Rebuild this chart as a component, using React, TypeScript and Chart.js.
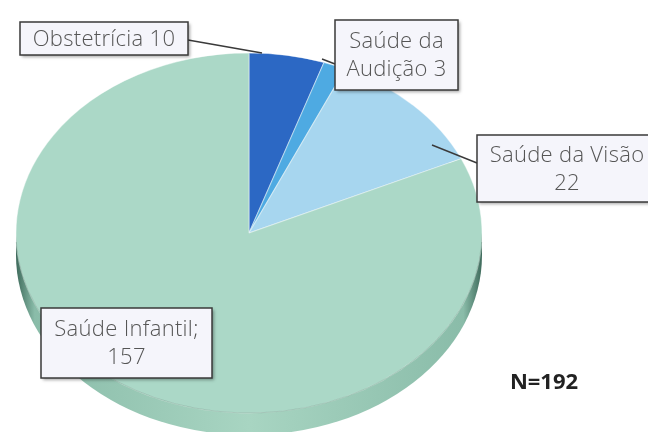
import { useEffect, useRef } from "react";
import { Chart, registerables } from "chart.js";

Chart.register(...registerables);

const categories = ["Obstetrícia", "Saúde da Audição", "Saúde da Visão", "Saúde Infantil"];
const values = [10, 3, 22, 157];
const sliceColors = ["#2c68c4", "#4eaae2", "#a7d6ef", "#abd8c7"];
const labelLines: string[][] = [
  [`Obstetrícia ${values[0]}`],
  ["Saúde da", `Audição ${values[1]}`],
  ["Saúde da Visão", `${values[2]}`],
  ["Saúde Infantil;", `${values[3]}`],
];
const totalLabel = `N=${values.reduce((a, b) => a + b, 0)}`;

// layout (style only)
const FACE = { cx: 249, cy: 233, rx: 233, ry: 180, depth: 22 };
const BOXES = [
  { x: 20, y: 22, w: 168, h: 33, from: [188, 40], to: [262, 53] },
  { x: 335, y: 20, w: 123, h: 70, from: [335, 64], to: [322, 59] },
  { x: 477, y: 135, w: 180, h: 67, from: [477, 163], to: [432, 145] },
  { x: 41, y: 308, w: 171, h: 70, from: null, to: null },
];

const piePlugin = {
  id: "pie3d",
  beforeDatasetsDraw(chart: any) {
    const ctx = chart.ctx as CanvasRenderingContext2D;
    const arc = chart.getDatasetMeta(0).data[0];
    if (!arc) return;
    const { cx, cy, rx, ry, depth } = FACE;
    ctx.save();
    const g = ctx.createLinearGradient(cx - rx, 0, cx + rx, 0);
    g.addColorStop(0, "#3e6a5b");
    g.addColorStop(0.04, "#8abca9");
    g.addColorStop(0.5, "#a8d5c2");
    g.addColorStop(0.96, "#8abca9");
    g.addColorStop(1, "#3e6a5b");
    ctx.fillStyle = g;
    ctx.beginPath();
    ctx.ellipse(cx, cy + depth, rx, ry, 0, 0, Math.PI * 2);
    ctx.fill();
    ctx.fillRect(cx - rx, cy, rx * 2, depth);
    const r = arc.outerRadius;
    ctx.translate(cx, cy);
    ctx.scale(rx / r, ry / r);
    ctx.translate(-arc.x, -arc.y);
  },
  afterDatasetsDraw(chart: any) {
    const ctx = chart.ctx as CanvasRenderingContext2D;
    ctx.restore();
    const { cx, cy, rx, ry } = FACE;
    ctx.save();
    ctx.strokeStyle = "rgba(80,130,110,0.3)";
    ctx.lineWidth = 1;
    ctx.beginPath();
    ctx.ellipse(cx, cy, rx, ry, 0, 0.05, Math.PI - 0.05);
    ctx.stroke();
    ctx.restore();
  },
  afterDraw(chart: any) {
    const ctx = chart.ctx as CanvasRenderingContext2D;
    ctx.save();
    ctx.strokeStyle = "#3a3a3a";
    ctx.lineWidth = 1.5;
    BOXES.forEach((b) => {
      if (!b.from || !b.to) return;
      ctx.beginPath();
      ctx.moveTo(b.from[0], b.from[1]);
      ctx.lineTo(b.to[0], b.to[1]);
      ctx.stroke();
    });
    BOXES.forEach((b, i) => {
      ctx.save();
      ctx.shadowColor = "rgba(0,0,0,0.35)";
      ctx.shadowBlur = 3;
      ctx.shadowOffsetX = 2;
      ctx.shadowOffsetY = 2;
      ctx.fillStyle = "#f5f5fb";
      ctx.fillRect(b.x, b.y, b.w, b.h);
      ctx.restore();
      ctx.strokeStyle = "#3a3a3a";
      ctx.lineWidth = 1.5;
      ctx.strokeRect(b.x, b.y, b.w, b.h);
      const lines = labelLines[i];
      ctx.fillStyle = "#555";
      ctx.font = "300 22px 'Open Sans'";
      (ctx as any).letterSpacing = "0.3px";
      ctx.textAlign = "center";
      ctx.textBaseline = "middle";
      const mx = b.x + b.w / 2;
      const my = b.y + b.h / 2 + 1;
      const lh = 28;
      lines.forEach((t, k) => {
        ctx.fillText(t, mx, my + (k - (lines.length - 1) / 2) * lh);
      });
    });
    (ctx as any).letterSpacing = "0px";
    ctx.fillStyle = "#222";
    ctx.font = "bold 22px 'Open Sans'";
    ctx.textAlign = "center";
    ctx.textBaseline = "middle";
    ctx.fillText(totalLabel, 544, 383);
    ctx.restore();
  },
};

export default function App() {
  const ref = useRef<HTMLCanvasElement | null>(null);
  useEffect(() => {
    document.body.style.margin = "0";
    if (!ref.current) return;
    const chart = new Chart(ref.current, {
      type: "pie",
      data: {
        labels: categories,
        datasets: [
          {
            data: values,
            backgroundColor: sliceColors,
            borderColor: "rgba(255,255,255,0.45)",
            borderWidth: 1,
            clip: false,
          } as any,
        ],
      },
      options: {
        animation: false,
        responsive: true,
        maintainAspectRatio: false,
        plugins: { legend: { display: false }, tooltip: { enabled: false } },
        events: [],
      },
      plugins: [piePlugin],
    });
    return () => chart.destroy();
  }, []);
  return (
    <div style={{ width: 648, height: 432, position: "relative", background: "#fff" }}>
      <canvas ref={ref} />
    </div>
  );
}
